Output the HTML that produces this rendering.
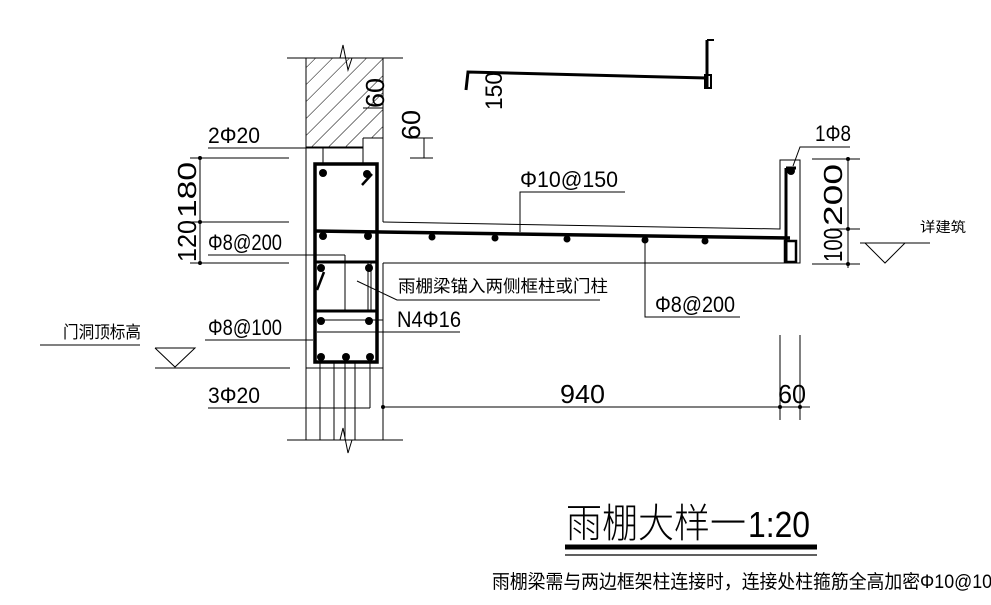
<!DOCTYPE html>
<html><head><meta charset="utf-8"><style>
html,body{margin:0;padding:0;background:#fff;}
svg{display:block;}
text{font-family:"Liberation Sans","Noto Sans CJK SC",sans-serif;fill:#000;}
</style></head><body>
<svg width="991" height="605" viewBox="0 0 991 605" xmlns="http://www.w3.org/2000/svg">
<defs>
<pattern id="h" patternUnits="userSpaceOnUse" width="12" height="12" patternTransform="rotate(45)">
<line x1="0" y1="0" x2="0" y2="12" stroke="#000" stroke-width="1"/>
</pattern>
</defs>
<g stroke="#000" fill="none" stroke-width="1">
<!-- column hatch -->
<path d="M306 58 H383 V138 H363 V147 H306 Z" fill="url(#h)" stroke="none"/>
<line x1="287" y1="58" x2="403" y2="58"/>
<line x1="287" y1="440" x2="403" y2="440"/>
<line x1="306" y1="58" x2="306" y2="440"/>
<line x1="383" y1="58" x2="383" y2="222"/>
<line x1="383" y1="263" x2="383" y2="440"/>
<polyline points="340,58 343,45 348,70 352,58"/>
<polyline points="340,440 343,428 348,453 352,440"/>
<line x1="363" y1="138" x2="383" y2="138"/>
<line x1="363" y1="138" x2="363" y2="158"/>
<line x1="306" y1="147" x2="363" y2="147"/>
<!-- bottom inner lines -->
<line x1="320" y1="362" x2="320" y2="440"/>
<line x1="334" y1="362" x2="334" y2="440"/>
<line x1="345" y1="362" x2="345" y2="440"/>
<line x1="355" y1="362" x2="355" y2="440"/>
<line x1="370" y1="362" x2="370" y2="408"/>
<line x1="306" y1="368" x2="383" y2="368"/>
<!-- slab outline -->
<polyline points="383,222 780,229 780,160 800,160 800,263 383,263"/>
<!-- beam stirrups -->
<rect x="315" y="164" width="62" height="198" stroke-width="3.5"/>
<line x1="315" y1="231" x2="790" y2="238" stroke-width="3.5"/>
<line x1="315" y1="262" x2="377" y2="262" stroke-width="3"/>
<line x1="315" y1="311" x2="377" y2="311" stroke-width="3"/>
<line x1="345" y1="255" x2="345" y2="311"/>
<line x1="368" y1="262" x2="368" y2="311"/>
<line x1="371" y1="262" x2="371" y2="311"/>
<line x1="317" y1="320" x2="383" y2="320"/>
<line x1="362" y1="185" x2="372" y2="174" stroke-width="2.5"/>
<line x1="317" y1="290" x2="324" y2="272" stroke-width="2.5"/>
<!-- upturn rebar -->
<line x1="786" y1="168" x2="786" y2="262" stroke-width="3"/>
<rect x="785" y="241" width="11" height="21" stroke-width="2.5"/>
<line x1="786" y1="168" x2="796" y2="168" stroke-width="3"/>
<!-- left dims -->
<line x1="200" y1="158" x2="200" y2="265"/>
<line x1="190" y1="158" x2="289" y2="158"/>
<line x1="190" y1="222" x2="289" y2="222"/>
<line x1="190" y1="263" x2="289" y2="263"/>
<!-- leaders left -->
<polyline points="208,148 363,148 363,163"/>
<line x1="323" y1="148" x2="323" y2="165"/>
<polyline points="208,255 345,255"/>
<polyline points="205,340 313,340"/>
<polyline points="208,408 370,408"/>
<line x1="40" y1="345" x2="140" y2="345"/>
<polyline points="155,348 195,348 175,367 155,348"/>
<line x1="155" y1="368" x2="290" y2="368"/>
<!-- center leaders -->
<polyline points="357,281 397,300 600,300"/>
<line x1="317" y1="332" x2="460" y2="332"/>
<polyline points="520,232 520,192 625,192"/>
<polyline points="645,240 645,317 740,317"/>
<polyline points="793,166 800,147 850,147"/>
<!-- right dims -->
<line x1="848" y1="157" x2="848" y2="268"/>
<line x1="812" y1="159" x2="860" y2="159"/>
<line x1="830" y1="229" x2="860" y2="229"/>
<line x1="812" y1="264" x2="860" y2="264"/>
<polyline points="865,243 905,243 885,263 865,243"/>
<line x1="860" y1="243" x2="930" y2="243"/>
<!-- bottom dim -->
<line x1="383" y1="407" x2="810" y2="407"/>
<line x1="780" y1="335" x2="780" y2="420"/>
<line x1="800" y1="335" x2="800" y2="420"/>
<!-- top small dims -->
<line x1="363" y1="108" x2="383" y2="108"/>
<line x1="424" y1="138" x2="424" y2="158"/>
<line x1="410" y1="138" x2="433" y2="138"/>
<line x1="410" y1="158" x2="433" y2="158"/>
<!-- 150 detail -->
<polyline points="466,90 468,72 707,78" stroke-width="3"/>
<line x1="707" y1="40" x2="707" y2="88" stroke-width="3"/>
<line x1="707" y1="40" x2="714" y2="40" stroke-width="2"/>
<rect x="705" y="75" width="6" height="13" stroke-width="2"/>
<!-- title bars -->
<line x1="565" y1="547" x2="817" y2="547" stroke-width="5"/>
<line x1="565" y1="555" x2="817" y2="555" stroke-width="1.2"/>
</g>
<g fill="#000">
<circle cx="323" cy="173" r="4"/><circle cx="367" cy="174" r="4"/>
<circle cx="323" cy="236" r="4"/><circle cx="368" cy="236" r="4"/>
<circle cx="321" cy="268" r="4"/><circle cx="369" cy="268" r="4"/>
<circle cx="321" cy="321" r="4"/><circle cx="369" cy="321" r="4"/>
<circle cx="321" cy="357" r="4"/><circle cx="346" cy="357" r="4"/><circle cx="370" cy="357" r="4"/>
<circle cx="432" cy="237" r="3.5"/><circle cx="495" cy="238" r="3.5"/><circle cx="567" cy="239" r="3.5"/>
<circle cx="645" cy="240" r="3.5"/><circle cx="705" cy="241" r="3.5"/>
<circle cx="791" cy="171" r="4"/>
<circle cx="200" cy="158" r="2"/><circle cx="200" cy="222" r="2"/><circle cx="200" cy="263" r="2"/>
<circle cx="848" cy="159" r="2"/><circle cx="848" cy="229" r="2"/><circle cx="848" cy="264" r="2"/>
<circle cx="383" cy="407" r="2"/><circle cx="780" cy="407" r="2"/><circle cx="800" cy="407" r="2"/>
</g>
<g font-size="22">
<text x="208" y="143" textLength="52" lengthAdjust="spacingAndGlyphs">2Φ20</text>
<text x="208" y="250" textLength="74" lengthAdjust="spacingAndGlyphs">Φ8@200</text>
<text x="208" y="335" textLength="74" lengthAdjust="spacingAndGlyphs">Φ8@100</text>
<text x="208" y="403" textLength="52" lengthAdjust="spacingAndGlyphs">3Φ20</text>
<text x="397" y="327" textLength="64" lengthAdjust="spacingAndGlyphs">N4Φ16</text>
<text x="520" y="187" textLength="98" lengthAdjust="spacingAndGlyphs">Φ10@150</text>
<text x="655" y="312" textLength="80" lengthAdjust="spacingAndGlyphs">Φ8@200</text>
<text x="815" y="141" textLength="36" lengthAdjust="spacingAndGlyphs">1Φ8</text>
<text x="560" y="403" font-size="26" textLength="45" lengthAdjust="spacingAndGlyphs">940</text>
<text x="778" y="403" font-size="26" textLength="28" lengthAdjust="spacingAndGlyphs">60</text>
<text transform="translate(196,218) rotate(-90)" textLength="56" lengthAdjust="spacingAndGlyphs" font-size="26">180</text>
<text transform="translate(196,262) rotate(-90)" textLength="42" lengthAdjust="spacingAndGlyphs" font-size="26">120</text>
<text transform="translate(842,226) rotate(-90)" textLength="62" lengthAdjust="spacingAndGlyphs" font-size="26">200</text>
<text transform="translate(842,262) rotate(-90)" textLength="34" lengthAdjust="spacingAndGlyphs" font-size="26">100</text>
<text transform="translate(384,108) rotate(-90)" textLength="30" lengthAdjust="spacingAndGlyphs" font-size="26">60</text>
<text transform="translate(420,140) rotate(-90)" textLength="30" lengthAdjust="spacingAndGlyphs" font-size="26">60</text>
<text transform="translate(502,110) rotate(-90)" textLength="38" lengthAdjust="spacingAndGlyphs" font-size="24">150</text>
</g>
<g font-size="17">
<text x="398" y="292" textLength="210" lengthAdjust="spacingAndGlyphs">雨棚梁锚入两侧框柱或门柱</text>
<text x="63" y="338" textLength="78" lengthAdjust="spacingAndGlyphs">门洞顶标高</text>
<text x="920" y="232" font-size="14" textLength="46" lengthAdjust="spacingAndGlyphs">详建筑</text>
<text x="492" y="588" font-size="19" textLength="510" lengthAdjust="spacingAndGlyphs">雨棚梁需与两边框架柱连接时，连接处柱箍筋全高加密Φ10@100</text>
</g>
<text x="566" y="537" font-size="40" font-weight="normal" textLength="180" lengthAdjust="spacingAndGlyphs" style="font-family:'Noto Sans CJK SC',sans-serif;font-weight:300">雨棚大样一</text>
<text x="748" y="537" font-size="36" textLength="62" lengthAdjust="spacingAndGlyphs">1:20</text>
</svg>
</body></html>
